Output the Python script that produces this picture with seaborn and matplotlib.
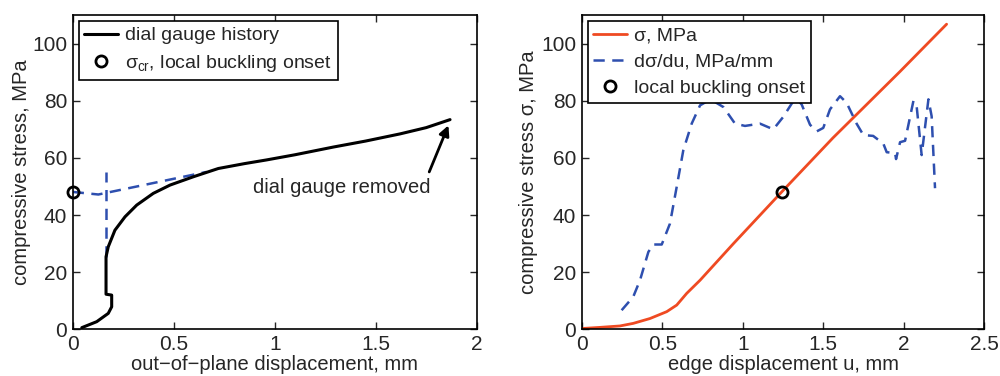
import matplotlib
matplotlib.use("Agg")
import matplotlib.pyplot as plt
import seaborn as sns

# left panel: dial gauge history
gauge_x = [0.045, 0.119, 0.176, 0.193, 0.193, 0.165, 0.165, 0.176, 0.209, 0.259, 0.317,
           0.399, 0.482, 0.597, 0.721, 0.85, 0.96, 1.1, 1.29, 1.45, 1.62, 1.75, 1.868]
gauge_y = [0.6, 2.7, 5.6, 7.9, 12.0, 12.3, 25.4, 28.9, 34.7, 39.4, 43.5,
           47.6, 50.5, 53.4, 56.3, 58.0, 59.3, 61.1, 63.8, 65.9, 68.4, 70.6, 73.4]
# construction lines for sigma_cr
tangent_x = [0.0, 0.127, 0.663]
tangent_y = [48.1, 47.2, 55.1]
vert_x = [0.165, 0.165]
vert_y = [25.4, 55.1]
onset_left = (0.0, 48.0)

# right panel: stress vs edge displacement
u_sigma = [0.0, 0.114, 0.238, 0.32, 0.424, 0.528, 0.59, 0.652, 0.735, 0.942, 1.242, 1.56, 1.976, 2.266]
sigma = [0.3, 0.7, 1.2, 2.1, 3.8, 6.2, 8.5, 12.6, 17.2, 30.0, 48.1, 67.0, 90.2, 106.8]
u_deriv = [0.248, 0.32, 0.362, 0.414, 0.445, 0.497, 0.548, 0.59, 0.631, 0.683, 0.735, 0.80,
           0.88, 0.952, 1.014, 1.107, 1.19, 1.252, 1.304, 1.33, 1.366, 1.418, 1.46, 1.5,
           1.542, 1.604, 1.645, 1.707, 1.749, 1.81, 1.873, 1.894, 1.946, 1.952, 1.977,
           2.008, 2.06, 2.08, 2.111, 2.153, 2.173, 2.194]
deriv = [6.7, 11.4, 17.2, 27.1, 29.7, 29.7, 37.0, 49.9, 62.7, 72.0, 78.4, 80.5,
         77.8, 72.0, 71.2, 72.0, 70.0, 74.4, 79.0, 81.0, 78.7, 71.6, 69.3, 70.5,
         77.0, 81.6, 79.3, 72.0, 68.0, 67.7, 65.0, 62.0, 61.7, 59.6, 65.5,
         66.0, 80.0, 78.0, 61.0, 80.5, 74.6, 49.4]
onset_right = (1.242, 48.0)

RED = "#EF4A22"
BLUE = "#2E4FAF"

sns.set_style("white")
plt.rcParams["font.family"] = ["Liberation Sans", "DejaVu Sans"]
plt.rcParams["mathtext.fontset"] = "custom"
plt.rcParams["mathtext.rm"] = "Liberation Sans"
plt.rcParams["mathtext.it"] = "Liberation Sans"
fs_tick = 15
fs_lab = 14.5
fs_leg = 14

fig = plt.figure(figsize=(10, 3.76), dpi=100)
ax1 = fig.add_axes([0.0727, 0.124, 0.404, 0.836])
ax2 = fig.add_axes([0.5817, 0.124, 0.4026, 0.836])
dash = (0, (4.5, 3))
leg_kw = dict(loc="upper left", fontsize=fs_leg, frameon=True, fancybox=False, edgecolor="black",
              borderaxespad=0.3, handlelength=1.75, handletextpad=0.35, borderpad=0.3,
              labelspacing=0.45, framealpha=1)

# ---- left
sns.lineplot(x=tangent_x, y=tangent_y, ax=ax1, color=BLUE, lw=1.8, linestyle=dash,
             sort=False, estimator=None)
sns.lineplot(x=vert_x, y=vert_y, ax=ax1, color=BLUE, lw=1.8, linestyle=dash,
             sort=False, estimator=None)
sns.lineplot(x=gauge_x, y=gauge_y, ax=ax1, color="black", lw=2.2, sort=False, estimator=None,
             label="dial gauge history")
ax1.plot([onset_left[0]], [onset_left[1]], "o", mfc="none", mec="black", mew=2, ms=8,
         clip_on=False, label=r"$\sigma_{cr}$, local buckling onset")
ax1.annotate("", xy=(1.86, 71.4), xytext=(1.765, 55.1),
             arrowprops=dict(arrowstyle="-|>", color="black", lw=2, shrinkA=0, shrinkB=0,
                             mutation_scale=15))
ax1.text(1.33, 49.5, "dial gauge removed", fontsize=fs_lab, ha="center", va="center")
ax1.set_xlim(0, 2)
ax1.set_ylim(0, 110)
ax1.set_xticks([0, 0.5, 1, 1.5, 2])
ax1.set_xticklabels(["0", "0.5", "1", "1.5", "2"])
ax1.set_xlabel("out\u2212of\u2212plane displacement, mm", fontsize=fs_lab, labelpad=1)
ax1.set_ylabel("compressive stress, MPa", fontsize=fs_lab, labelpad=1)
leg1 = ax1.legend(**leg_kw)
leg1.get_frame().set_linewidth(1.2)

# ---- right
sns.lineplot(x=u_sigma, y=sigma, ax=ax2, color=RED, lw=2, sort=False, estimator=None,
             label="σ, MPa")
sns.lineplot(x=u_deriv, y=deriv, ax=ax2, color=BLUE, lw=1.8, linestyle=dash,
             sort=False, estimator=None, label="dσ/du, MPa/mm")
ax2.plot([onset_right[0]], [onset_right[1]], "o", mfc="none", mec="black", mew=2, ms=8,
         label="local buckling onset")
ax2.set_xlim(0, 2.5)
ax2.set_ylim(0, 110)
ax2.set_xticks([0, 0.5, 1, 1.5, 2, 2.5])
ax2.set_xticklabels(["0", "0.5", "1", "1.5", "2", "2.5"])
ax2.set_xlabel("edge displacement u, mm", fontsize=fs_lab, labelpad=1)
ax2.set_ylabel("compressive stress σ, MPa", fontsize=fs_lab, labelpad=2)
leg2 = ax2.legend(**leg_kw)
leg2.get_frame().set_linewidth(1.2)

for ax in (ax1, ax2):
    ax.set_yticks([0, 20, 40, 60, 80, 100])
    ax.tick_params(direction="in", length=5, width=1, labelsize=fs_tick, top=True, right=True,
                   bottom=True, left=True, pad=4)
    for s in ax.spines.values():
        s.set_linewidth(1.2)
        s.set_color("black")

fig.savefig("out.png", dpi=100)
